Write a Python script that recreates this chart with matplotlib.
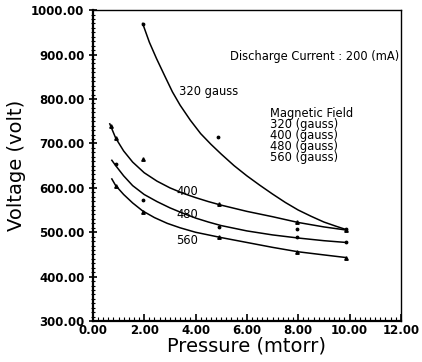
import numpy as np
import matplotlib
matplotlib.use('Agg')
import matplotlib.pyplot as plt
from matplotlib.ticker import MultipleLocator, FormatStrFormatter

# fitted curves (pressure [mtorr], voltage [volt])
x_320 = [1.94, 2.2, 2.48, 2.8, 3.1, 3.4, 3.8, 4.2, 4.6, 5.0, 5.5, 6.0, 6.5, 7.0,
         7.5, 8.0, 8.5, 9.0, 9.5, 9.87]
v_320 = [970, 928, 891, 852, 816, 786, 752, 722, 698, 676, 650, 627, 606, 586,
         567, 550, 536, 523, 513, 506]

x_400 = [0.66, 0.89, 1.2, 1.55, 2.0, 2.5, 3.0, 3.5, 4.0, 4.5, 5.0, 6.0, 7.0, 8.0, 9.0, 9.87]
v_400 = [744, 712, 683, 658, 634, 615, 600, 588, 578, 569, 561, 547, 535, 522, 512, 505]

x_480 = [0.74, 0.89, 1.2, 1.55, 2.0, 2.5, 3.0, 3.5, 4.0, 4.5, 5.0, 6.0, 7.0, 8.0, 9.0, 9.87]
v_480 = [662, 650, 627, 605, 585, 569, 555, 543, 532, 523, 515, 503, 494, 487, 481, 477]

x_560 = [0.74, 0.89, 1.2, 1.55, 1.94, 2.4, 2.9, 3.4, 4.0, 4.5, 5.0, 6.0, 7.0, 8.0, 9.0, 9.87]
v_560 = [620, 605, 585, 566, 548, 533, 520, 510, 500, 494, 488, 477, 466, 456, 449, 443]

# measured points
px_320 = [1.94, 4.88, 9.87]
pv_320 = [968, 714, 508]
px_400 = [0.7, 0.89, 1.94, 4.92, 7.94, 9.87]
pv_400 = [740, 712, 665, 563, 522, 504]
px_480 = [0.89, 1.94, 4.92, 7.94, 7.94, 9.87]
pv_480 = [654, 572, 512, 490, 508, 477]
px_560 = [0.89, 1.94, 4.92, 7.94, 9.87]
pv_560 = [604, 545, 490, 456, 443]

fig = plt.figure(figsize=(4.22, 3.62), dpi=100)
ax = fig.add_axes([0.220, 0.113, 0.730, 0.859])

for xs, ys in [(x_320, v_320), (x_400, v_400), (x_480, v_480), (x_560, v_560)]:
    ax.plot(xs, ys, color='black', lw=1.1)

ax.plot(px_320, pv_320, 'k.', ms=3.5)
ax.plot(px_400, pv_400, 'k^', ms=2.5)
ax.plot(px_480, pv_480, 'k.', ms=3.5)
ax.plot(px_560, pv_560, 'k^', ms=2.5)

ax.set_xlim(0, 12)
ax.set_ylim(300, 1000)
ax.xaxis.set_major_locator(MultipleLocator(2))
ax.xaxis.set_minor_locator(MultipleLocator(0.2))
ax.yaxis.set_major_locator(MultipleLocator(100))
ax.yaxis.set_minor_locator(MultipleLocator(10))
ax.xaxis.set_major_formatter(FormatStrFormatter('%.2f'))
ax.yaxis.set_major_formatter(FormatStrFormatter('%.2f'))

ax.tick_params(axis='y', which='major', direction='inout', length=6, width=1.2, pad=3)
ax.tick_params(axis='y', which='minor', direction='inout', length=3, width=0.8)
ax.tick_params(axis='x', which='major', direction='in', length=5, width=1.2, pad=2)
ax.tick_params(axis='x', which='minor', direction='in', length=3, width=0.8)
for lab in ax.get_xticklabels() + ax.get_yticklabels():
    lab.set_fontsize(8.5)
    lab.set_fontweight('bold')

for s in ['left', 'bottom']:
    ax.spines[s].set_linewidth(1.6)
for s in ['top', 'right']:
    ax.spines[s].set_linewidth(1.0)

ax.set_xlabel('Pressure (mtorr)', fontsize=14, labelpad=0)
ax.set_ylabel('Voltage (volt)', fontsize=14, labelpad=4)

ax.text(11.95, 896, 'Discharge Current : 200 (mA)', fontsize=8.3, ha='right', va='center')
ax.text(3.37, 816, '320 gauss', fontsize=8.3, ha='left', va='center')
ax.text(6.89, 781, 'Magnetic Field\n320 (gauss)\n400 (gauss)\n480 (gauss)\n560 (gauss)',
        fontsize=8.3, ha='left', va='top', linespacing=0.8)
ax.text(3.25, 592, '400', fontsize=8.3, ha='left', va='center')
ax.text(3.25, 540, '480', fontsize=8.3, ha='left', va='center')
ax.text(3.25, 481, '560', fontsize=8.3, ha='left', va='center')

fig.savefig('out.png', dpi=100)
